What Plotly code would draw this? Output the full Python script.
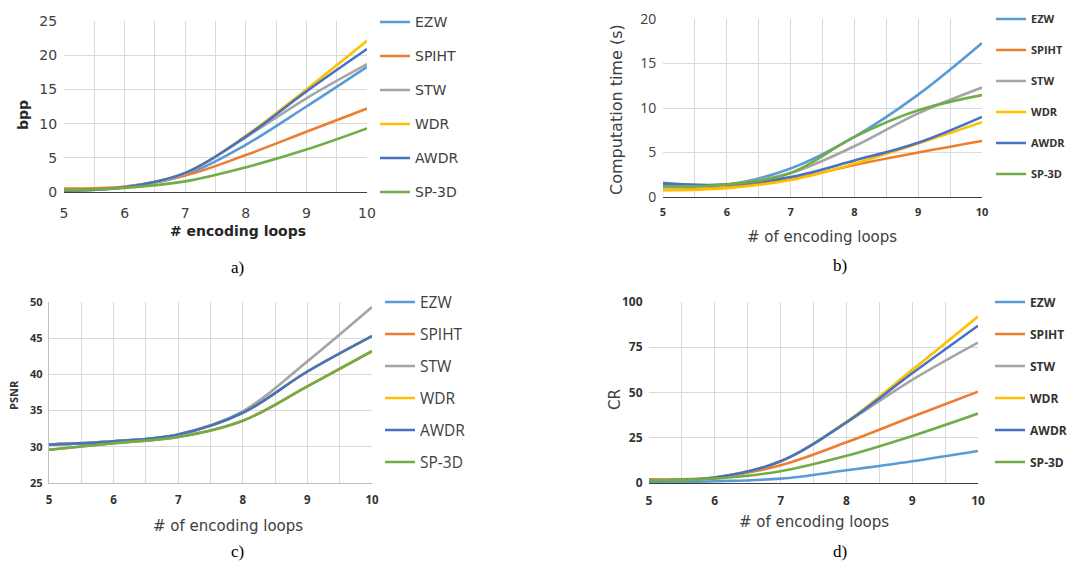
import plotly.graph_objects as go

W, H = 1078, 561

loops = [5, 6, 7, 8, 9, 10]
methods = ["EZW", "SPIHT", "STW", "WDR", "AWDR", "SP-3D"]
colors = ["#5B9BD5", "#ED7D31", "#A5A5A5", "#FFC000", "#4472C4", "#70AD47"]

# a) bpp
bpp_ezw = [0.2, 0.7, 2.5, 6.9, 12.5, 18.3]
bpp_spiht = [0.5, 0.8, 2.4, 5.4, 8.8, 12.2]
bpp_stw = [0.2, 0.7, 2.7, 8.0, 13.7, 18.7]
bpp_wdr = [0.2, 0.7, 2.8, 8.2, 15.0, 22.1]
bpp_awdr = [0.2, 0.7, 2.8, 8.1, 14.7, 20.9]
bpp_sp3d = [0.3, 0.6, 1.55, 3.6, 6.2, 9.3]

# b) computation time (s)
time_ezw = [1.6, 1.4, 3.2, 6.75, 11.5, 17.3]
time_spiht = [0.8, 1.1, 2.0, 3.6, 5.0, 6.3]
time_stw = [1.1, 1.4, 2.7, 5.7, 9.4, 12.3]
time_wdr = [0.75, 1.0, 1.9, 3.75, 6.0, 8.4]
time_awdr = [1.5, 1.4, 2.25, 4.1, 6.1, 9.0]
time_sp3d = [1.2, 1.4, 2.7, 6.75, 9.75, 11.45]

# c) PSNR
psnr_ezw = [30.3, 30.75, 31.7, 34.7, 40.4, 45.3]
psnr_spiht = [29.6, 30.5, 31.35, 33.6, 38.35, 43.2]
psnr_stw = [30.3, 30.75, 31.7, 34.9, 41.8, 49.3]
psnr_wdr = [30.3, 30.75, 31.7, 34.7, 40.4, 45.3]
psnr_awdr = [30.3, 30.75, 31.7, 34.7, 40.4, 45.3]
psnr_sp3d = [29.6, 30.5, 31.35, 33.6, 38.35, 43.2]

# d) CR
cr_ezw = [0.5, 1.0, 2.4, 7.0, 12.0, 17.7]
cr_spiht = [2.0, 3.0, 9.8, 22.5, 36.6, 50.5]
cr_stw = [1.5, 3.0, 12.0, 33.5, 57.0, 77.6]
cr_wdr = [1.5, 3.0, 12.0, 33.8, 62.5, 92.0]
cr_awdr = [1.5, 3.0, 12.0, 33.5, 60.6, 86.9]
cr_sp3d = [1.5, 2.4, 6.5, 15.0, 26.0, 38.4]

panels = [
    [bpp_ezw, bpp_spiht, bpp_stw, bpp_wdr, bpp_awdr, bpp_sp3d],
    [time_ezw, time_spiht, time_stw, time_wdr, time_awdr, time_sp3d],
    [psnr_ezw, psnr_spiht, psnr_stw, psnr_wdr, psnr_awdr, psnr_sp3d],
    [cr_ezw, cr_spiht, cr_stw, cr_wdr, cr_awdr, cr_sp3d],
]

def px(x):
    return x / W

def py(y):
    return 1 - y / H

# pixel boxes (left, right, top, bottom)
boxes = [(64, 367, 21, 192), (663, 982, 19, 197), (49, 372, 302, 483), (649, 978, 302, 483)]
yranges = [[0, 25], [0, 20], [25, 50], [0, 100]]
ydticks = [5, 5, 5, 25]

fig = go.Figure()
legend_names = ["legend", "legend2", "legend3", "legend4"]
for p, series in enumerate(panels):
    xa = "x" if p == 0 else f"x{p+1}"
    ya = "y" if p == 0 else f"y{p+1}"
    for i, (name, vals) in enumerate(zip(methods, series)):
        fig.add_trace(go.Scatter(
            x=loops, y=vals, name=name, mode="lines",
            line=dict(color=colors[i], width=2.6, shape="spline", smoothing=1.0),
            xaxis=xa, yaxis=ya, legend=legend_names[p],
            legendgroup=f"p{p}_{name}", showlegend=True,
        ))

grid = "#D9D9D9"
tickfonts_x = [
    dict(family="DejaVu Sans", size=14, color="#404040"),
    dict(family="Open Sans", size=11, color="#333333", weight="bold"),
    dict(family="Open Sans", size=11.5, color="#333333", weight="bold"),
    dict(family="Open Sans", size=12, color="#333333", weight="bold"),
]
tickfonts_y = [
    dict(family="DejaVu Sans", size=14, color="#404040"),
    dict(family="Open Sans", size=14, color="#404040"),
    dict(family="Open Sans", size=11, color="#333333", weight="bold"),
    dict(family="Open Sans", size=12, color="#333333", weight="bold"),
]
xticklen = [8, 5, 6, 6]
bottom_line = ["#404040", "#404040", "#BFBFBF", "#404040"]
left_line = [False, False, True, False]

layout = {}
for p, (l, r, t, b) in enumerate(boxes):
    xk = "xaxis" if p == 0 else f"xaxis{p+1}"
    yk = "yaxis" if p == 0 else f"yaxis{p+1}"
    ya = "y" if p == 0 else f"y{p+1}"
    xa = "x" if p == 0 else f"x{p+1}"
    layout[xk] = dict(
        domain=[px(l), px(r)], anchor=ya, range=[5, 10], dtick=1, tick0=5,
        showgrid=True, gridcolor=grid, gridwidth=1,
        minor=dict(dtick=0.5, tick0=5, showgrid=True, gridcolor=grid, gridwidth=1),
        showline=True, linecolor=bottom_line[p], linewidth=1.3,
        ticks="outside", ticklen=xticklen[p], tickcolor="rgba(0,0,0,0)",
        tickfont=tickfonts_x[p], zeroline=False, fixedrange=True,
    )
    layout[yk] = dict(
        domain=[py(b), py(t)], anchor=xa, range=yranges[p], dtick=ydticks[p], tick0=0,
        showgrid=True, gridcolor=grid, gridwidth=1,
        showline=left_line[p], linecolor="#BFBFBF", linewidth=1.3,
        ticks="outside", ticklen=3, tickcolor="rgba(0,0,0,0)",
        tickfont=tickfonts_y[p], zeroline=False, fixedrange=True,
    )

legend_fonts = [
    dict(family="DejaVu Sans", size=14, color="#404040"),
    dict(family="Open Sans", size=11, color="#333333", weight="bold"),
    dict(family="Open Sans", size=15.5, color="#404040"),
    dict(family="Open Sans", size=12, color="#333333", weight="bold"),
]
legend_pos = [(375, 22, 34), (991, 19, 31), (380, 302, 32), (990, 302, 32)]
for p, (lx, ly, gap) in enumerate(legend_pos):
    fs = legend_fonts[p]["size"]
    item_h = max(fs * 1.3, 16) + 3
    layout[legend_names[p]] = dict(
        x=px(lx), y=py(ly - item_h / 2 - 5), xanchor="left", yanchor="top",
        font=legend_fonts[p], bgcolor="rgba(0,0,0,0)", borderwidth=0,
        tracegroupgap=max(gap - item_h, 0), itemwidth=30, traceorder="grouped",
    )

annotations = []
def ann(text, x, y, font, angle=0):
    annotations.append(dict(text=text, x=px(x), y=py(y), xref="paper", yref="paper",
                            showarrow=False, xanchor="center", yanchor="middle",
                            font=font, textangle=angle))

# axis titles
ann("# encoding loops", 238, 231, dict(family="DejaVu Sans", size=14, color="#262626", weight="bold"))
ann("bpp", 23, 115, dict(family="DejaVu Sans", size=14, color="#262626", weight="bold"), -90)
ann("# of encoding loops", 822, 237, dict(family="DejaVu Sans", size=15, color="#404040"))
ann("Computation time (s)", 617, 110, dict(family="DejaVu Sans", size=16, color="#404040"), -90)
ann("# of encoding loops", 228, 526, dict(family="DejaVu Sans", size=15, color="#404040"))
ann("PSNR", 13, 395, dict(family="Open Sans", size=11, color="#333333", weight="bold"), -90)
ann("# of encoding loops", 814, 522, dict(family="DejaVu Sans", size=15, color="#404040"))
ann("CR", 615, 400, dict(family="DejaVu Sans", size=15, color="#404040"), -90)

# captions
cap = dict(family="Liberation Serif", size=17, color="black")
ann("a)", 237, 267, cap)
ann("b)", 840, 265, cap)
ann("c)", 237, 551, cap)
ann("d)", 840, 551, cap)

fig.update_layout(
    width=W, height=H, margin=dict(l=0, r=0, t=0, b=0, autoexpand=False),
    paper_bgcolor="white", plot_bgcolor="white",
    annotations=annotations, **layout,
)

fig.write_html(
    "out.html",
    config={"displayModeBar": False},
    post_script="document.body.style.margin='0';document.body.style.padding='0';document.body.style.overflow='hidden';",
)
